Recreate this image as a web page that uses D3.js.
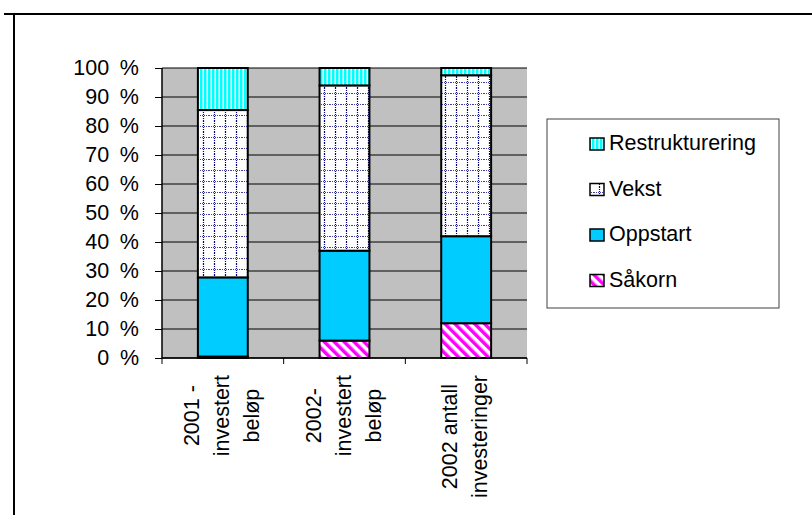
<!DOCTYPE html>
<html><head><meta charset="utf-8">
<script src="https://cdn.jsdelivr.net/npm/d3@7"></script>
<style>
html,body{margin:0;padding:0;background:#fff;}
svg{display:block;font-family:"Liberation Sans",Arial,sans-serif;}
</style></head>
<body>
<svg id="c" width="812" height="515"></svg>
<script>
const categories = ["2001 - investert beløp", "2002- investert beløp", "2002 antall investeringer"];
const categoryLines = [["2001 -", "investert", "beløp"], ["2002-", "investert", "beløp"], ["2002 antall", "investeringer"]];
const seriesNames = ["Såkorn", "Oppstart", "Vekst", "Restrukturering"];
const sakorn = [0.5, 6, 12];
const oppstart = [27.3, 31, 30];
const vekst = [57.7, 57, 55.5];
const restrukturering = [14.5, 6, 2.5];
const yTicks = [0, 10, 20, 30, 40, 50, 60, 70, 80, 90, 100];

const FS = 21.5;
const svg = d3.select("#c");
const defs = svg.append("defs");

// patterns
const pR = defs.append("pattern").attr("id","pR").attr("patternUnits","userSpaceOnUse").attr("width",4).attr("height",4);
pR.append("rect").attr("width",4).attr("height",4).attr("fill","#ffffff");
pR.append("rect").attr("x",0).attr("width",2).attr("height",4).attr("fill","#00ffff");
pR.append("rect").attr("x",2).attr("width",1).attr("height",4).attr("fill","#80ffff");

const pV = defs.append("pattern").attr("id","pV").attr("patternUnits","userSpaceOnUse").attr("width",11).attr("height",11);
pV.append("rect").attr("width",11).attr("height",11).attr("fill","#ffffff");
pV.append("line").attr("x1",0).attr("x2",11).attr("y1",5.5).attr("y2",5.5).attr("stroke","#4040a8").attr("stroke-width",1).attr("stroke-dasharray","1,1");
pV.append("line").attr("x1",5.5).attr("x2",5.5).attr("y1",0).attr("y2",11).attr("stroke","#000080").attr("stroke-width",1.2).attr("stroke-dasharray","1,1");

const pS = defs.append("pattern").attr("id","pS").attr("patternUnits","userSpaceOnUse").attr("width",7).attr("height",7).attr("patternTransform","rotate(-45)");
pS.append("rect").attr("width",7).attr("height",7).attr("fill","#ffffff");
pS.append("rect").attr("width",3.5).attr("height",7).attr("fill","#ff00ff");

const fills = {"Såkorn":"url(#pS)","Oppstart":"#00ccff","Vekst":"url(#pV)","Restrukturering":"url(#pR)"};
const valuesBySeries = {"Såkorn":sakorn,"Oppstart":oppstart,"Vekst":vekst,"Restrukturering":restrukturering};

// frame
svg.append("line").attr("x1",4).attr("x2",812).attr("y1",14).attr("y2",14).attr("stroke","#000").attr("stroke-width",2);
svg.append("line").attr("x1",14).attr("x2",14).attr("y1",13).attr("y2",515).attr("stroke","#000").attr("stroke-width",2);

const pLeft = 162, pRight = 527, pTop = 68, pBottom = 358;
const x = d3.scaleBand().domain(categories).range([pLeft,pRight]).paddingInner(0.59).paddingOuter(0.295);
const y = d3.scaleLinear().domain([0,100]).range([pBottom,pTop]);

svg.append("rect").attr("x",pLeft).attr("y",pTop).attr("width",pRight-pLeft).attr("height",pBottom-pTop).attr("fill","#c0c0c0");

// gridlines
svg.append("g").selectAll("line").data(yTicks).join("line")
  .attr("x1",pLeft).attr("x2",pRight).attr("y1",d=>y(d)).attr("y2",d=>y(d))
  .attr("stroke","#000").attr("stroke-width",1);

// stacked bars
const table = categories.map((c,i)=>{const o={cat:c}; seriesNames.forEach(s=>o[s]=valuesBySeries[s][i]); return o;});
const stack = d3.stack().keys(seriesNames)(table);
const g = svg.append("g");
stack.forEach(layer=>{
  g.selectAll(null).data(layer).join("rect")
    .attr("x",d=>x(d.data.cat)).attr("width",x.bandwidth())
    .attr("y",d=>y(d[1])).attr("height",d=>y(d[0])-y(d[1]))
    .attr("fill",fills[layer.key]).attr("stroke","#000").attr("stroke-width",2);
});

// y axis
const ya = svg.append("g").attr("transform",`translate(${pLeft},0)`)
  .call(d3.axisLeft(y).tickValues(yTicks).tickSize(7).tickPadding(16).tickFormat(d=>d+"\u2002%"));
ya.select(".domain").attr("stroke","#000").attr("stroke-width",1.5).attr("d",`M0,${pTop}V${pBottom}`);
ya.selectAll(".tick line").attr("stroke","#000");
ya.selectAll(".tick text").attr("font-size",FS).attr("fill","#000").attr("font-family","Liberation Sans, Arial, sans-serif");

// x axis line & ticks
svg.append("line").attr("x1",pLeft).attr("x2",pRight).attr("y1",pBottom).attr("y2",pBottom).attr("stroke","#000").attr("stroke-width",1.5);
const boundaries = d3.range(categories.length+1).map(i=>pLeft + i*x.step());
svg.append("g").selectAll("line").data(boundaries).join("line")
  .attr("x1",d=>d).attr("x2",d=>d).attr("y1",pBottom).attr("y2",pBottom+6).attr("stroke","#000");

// x labels (rotated, multi-line)
const lineGap = 30;
categories.forEach((c,i)=>{
  const lines = categoryLines[i];
  const cx = x(c) + x.bandwidth()/2;
  const grp = svg.append("g");
  const texts = lines.map((t,j)=>{
    const bx = cx + (j-(lines.length-1)/2)*lineGap + 6;
    return grp.append("text").attr("font-size",FS).attr("text-anchor","middle").attr("fill","#000").text(t).attr("data-bx",bx);
  });
  const maxW = d3.max(texts, t=>t.node().getComputedTextLength());
  const cy = 375 + maxW/2;
  texts.forEach(t=>{
    const bx = +t.attr("data-bx");
    t.attr("transform",`translate(${bx},${cy}) rotate(-90)`);
  });
});

// legend
svg.append("rect").attr("x",547).attr("y",119).attr("width",232).attr("height",189).attr("fill","#fff").attr("stroke","#404040").attr("stroke-width",1);
const legendOrder = ["Restrukturering","Vekst","Oppstart","Såkorn"];
legendOrder.forEach((s,i)=>{
  const by = 150 + i*45.5;
  svg.append("rect").attr("x",590).attr("y",by-12).attr("width",14).attr("height",12).attr("fill",fills[s]).attr("stroke","#000").attr("stroke-width",1.5);
  svg.append("text").attr("x",609).attr("y",by).attr("font-size",FS).attr("fill","#000").text(s);
});
</script>
</body></html>
